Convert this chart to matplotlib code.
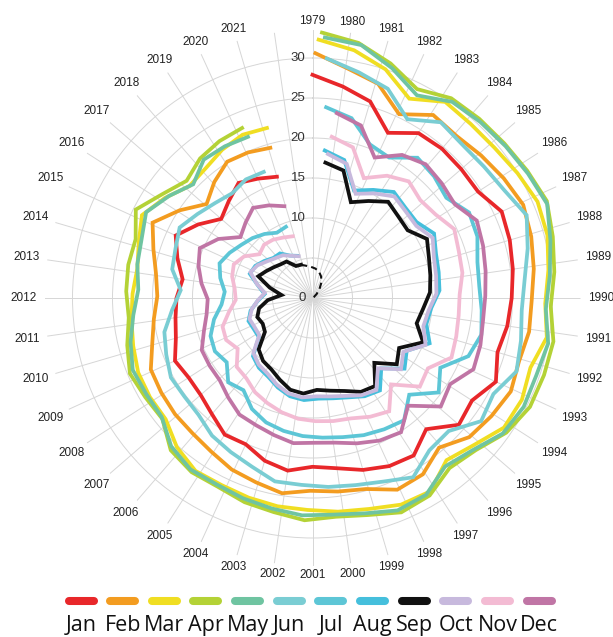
import numpy as np
import matplotlib
matplotlib.use('Agg')
import matplotlib.pyplot as plt
from matplotlib.lines import Line2D

# 年份 (1979-2021), 数值读自原图 (千立方公里)
years = list(range(1979, 2022))

jan = [27.9, 26.7, 25.6, 22.7, 24.5, 24.7, 24.6, 24.6, 26.0, 25.7,
       25.3, 24.9, 24.6, 24.1, 25.2, 23.7, 24.2, 21.7, 23.4, 23.1,
       22.4, 21.5, 21.1, 21.8, 21.2, 20.1, 20.3, 19.2, 18.5, 18.4,
       18.9, 17.8, 17.3, 17.0, 16.4, 17.6, 18.8, 17.0, 15.1, 16.0,
       17.1, 16.4, 15.8]
feb = [30.6, 29.0, 28.0, 25.4, 27.4, 27.1, 27.6, 28.2, 28.8, 28.4,
       27.9, 27.4, 27.4, 27.0, 27.4, 26.8, 26.2, 24.5, 26.0, 26.2,
       24.8, 24.4, 24.1, 24.7, 24.1, 23.7, 23.0, 22.6, 22.5, 22.3,
       22.1, 20.8, 20.0, 19.4, 19.8, 20.8, 22.1, 19.9, 17.7, 19.0,
       20.1, 19.9, 19.5]
mar = [32.3, 31.4, 30.0, 27.7, 29.6, 29.4, 29.5, 30.0, 30.6, 30.4,
       29.7, 29.1, 29.7, 28.6, 29.1, 28.9, 27.3, 26.3, 28.3, 28.1,
       27.3, 26.9, 26.5, 26.4, 26.2, 26.0, 26.1, 25.2, 23.8, 23.8,
       23.7, 23.2, 22.8, 22.5, 22.2, 22.8, 23.7, 22.3, 20.8, 21.0,
       21.7, 22.2, 22.0]
apr = [33.2, 32.4, 30.9, 29.2, 30.4, 30.6, 30.8, 31.2, 31.7, 31.0,
       30.4, 29.8, 30.6, 30.5, 30.4, 29.5, 27.9, 27.3, 28.7, 29.0,
       28.0, 27.5, 27.8, 27.2, 26.9, 26.4, 26.5, 26.0, 24.1, 24.3,
       24.7, 23.9, 23.1, 23.3, 23.4, 23.3, 24.7, 22.8, 21.5, 22.4,
       22.8, 23.0]
may = [32.6, 32.2, 30.4, 28.5, 30.1, 30.4, 30.7, 31.1, 31.6, 30.6,
       29.8, 29.2, 30.0, 29.6, 29.7, 29.2, 27.6, 26.8, 28.4, 28.6,
       27.7, 27.2, 27.2, 26.8, 26.5, 26.2, 26.3, 25.6, 24.0, 24.0,
       24.2, 23.4, 22.5, 21.8, 22.3, 22.6, 23.4, 22.0, 20.6, 22.0,
       21.9, 21.7]
jun = [30.0, 28.8, 27.8, 25.3, 27.2, 26.8, 27.0, 27.5, 28.7, 27.6,
       26.6, 26.2, 26.6, 27.1, 25.6, 26.1, 23.8, 24.0, 25.7, 24.6,
       24.0, 23.7, 23.4, 23.4, 22.4, 21.8, 21.3, 20.4, 20.2, 20.3,
       19.6, 19.0, 17.6, 16.5, 17.9, 18.2, 18.8, 17.8, 17.0, 16.5,
       17.0, 16.9]
jul = [23.9, 23.0, 20.5, 20.0, 21.9, 21.5, 20.9, 22.3, 22.0, 21.1,
       20.9, 21.2, 21.6, 20.8, 18.2, 19.7, 17.1, 19.1, 18.7, 18.3,
       17.8, 17.5, 17.3, 17.0, 16.6, 15.8, 14.4, 14.9, 13.4, 13.9,
       13.6, 12.6, 11.4, 11.0, 11.8, 12.4, 11.8, 11.1, 10.6, 10.0,
       9.3, 9.5]
aug = [18.5, 17.7, 14.4, 15.5, 16.7, 16.2, 16.1, 17.2, 16.4, 16.1,
       15.9, 14.9, 14.6, 15.7, 13.5, 14.5, 12.3, 14.3, 13.9, 13.2,
       12.8, 12.6, 12.8, 12.6, 12.0, 11.3, 11.0, 10.4, 8.3, 8.3,
       8.5, 7.9, 6.9, 6.0, 7.0, 8.4, 8.2, 7.6, 7.0, 6.9,
       6.0, 5.6]
sep = [17.0, 16.4, 12.9, 14.0, 15.3, 14.8, 14.6, 16.1, 15.4, 15.0,
       14.7, 13.9, 13.4, 14.9, 12.5, 13.4, 11.2, 13.5, 13.2, 12.3,
       11.8, 11.5, 12.0, 11.8, 11.0, 10.3, 10.0, 9.3, 7.3, 7.0,
       7.3, 6.8, 5.6, 3.9, 5.5, 7.3, 6.7, 6.2, 5.8, 5.6,
       4.5, 4.4]
oct_ = [18.1, 17.3, 14.1, 15.2, 16.3, 15.9, 15.8, 16.8, 16.0, 15.7,
        15.5, 14.6, 14.3, 15.3, 13.2, 14.2, 12.0, 14.0, 13.6, 12.9,
        12.5, 12.3, 12.5, 12.3, 11.7, 11.0, 10.7, 10.1, 8.1, 8.1,
        8.3, 7.7, 6.8, 6.0, 7.2, 8.4, 8.0, 7.3, 6.8, 6.5,
        5.9, 5.5]
nov = [20.3, 19.5, 16.3, 17.9, 18.9, 18.2, 18.6, 19.7, 19.2, 19.0,
       18.4, 18.4, 18.6, 18.9, 16.9, 17.4, 14.6, 17.1, 16.5, 15.8,
       15.6, 15.4, 15.2, 14.8, 14.3, 13.8, 13.0, 12.8, 11.3, 12.0,
       11.8, 10.6, 9.6, 9.8, 10.4, 10.7, 10.0, 8.6, 9.0, 8.8,
       8.4, 8.1]
dec = [23.3, 22.4, 19.2, 21.1, 21.9, 21.6, 21.3, 22.7, 22.3, 21.9,
       21.6, 21.5, 21.8, 22.0, 20.3, 21.0, 18.0, 20.1, 19.7, 19.0,
       18.3, 18.1, 18.3, 17.8, 17.4, 17.2, 16.3, 15.5, 15.4, 15.3,
       14.2, 13.4, 13.1, 14.0, 14.8, 15.4, 13.9, 11.8, 12.6, 13.5,
       12.8, 12.0]

# 九月趋势外推 (2020-2030), 虚线
sep_outlook = [4.4, 4.1, 3.9, 3.7, 3.4, 2.9, 2.2, 1.4, 0.7, 0.2, 0.0]

months = ['Jan', 'Feb', 'Mar', 'Apr', 'May', 'Jun',
          'Jul', 'Aug', 'Sep', 'Oct', 'Nov', 'Dec']
colors = ['#e8272a', '#f39c20', '#f0de22', '#b4d236', '#6fc4a1', '#7acdd3',
          '#5dc6d6', '#45bfdc', '#111111', '#c7b9dd', '#f3bbd3', '#c075a5']
r_labels = [0, 10, 15, 20, 25, 30]

n_slots = 44  # 43 年 + 一个空位
series = [jan, feb, mar, apr, may, jun, jul, aug, sep, oct_, nov, dec]

fig = plt.figure(figsize=(6.13, 6.37), dpi=100)
fig.patch.set_facecolor('white')
ax = fig.add_axes([44.5 / 613, 71 / 637, 536 / 613, 536 / 637], projection='polar')
ax.set_theta_zero_location('N')
ax.set_theta_direction(-1)
ax.set_ylim(0, 33.5)

# 网格
ax.set_xticks(np.deg2rad(np.arange(n_slots) * 360 / n_slots))
ax.set_xticklabels([])
ax.set_yticks([5, 10, 15, 20, 25, 30])
ax.set_yticklabels([])
ax.grid(True, color='#d6d6d6', lw=0.7)
ax.spines['polar'].set_visible(False)

# 每个月一条线, 角度 = 年 + 月/12
for m, vals in enumerate(series):
    th = 2 * np.pi * (np.arange(len(vals)) + m / 12) / n_slots
    ax.plot(th, vals, color=colors[m], lw=2.7, solid_joinstyle='miter', zorder=3)

th = 2 * np.pi * (np.arange(len(sep_outlook)) + 41 + 8 / 12) / n_slots
ax.plot(th, sep_outlook, color='#111111', lw=1.5, ls=(0, (3, 2)), zorder=3)

# 半径标签
for r in r_labels:
    ax.annotate(str(r), xy=(0, r), xytext=(-5, 0), textcoords='offset points',
                ha='right', va='center', fontsize=9.5, color='#333333',
                family=['Liberation Sans', 'DejaVu Sans'])

# 年份标签
for i, y in enumerate(years):
    t = 2 * np.pi * i / n_slots
    rr = 34.6 + 1.5 * abs(np.sin(t))
    ax.text(t, rr, str(y), ha='center', va='center', fontsize=8.5, color='#222222',
            family=['Liberation Sans', 'DejaVu Sans'])

# 图例
for k, (name, c) in enumerate(zip(months, colors)):
    x = 81 + 41.65 * k
    fig.add_artist(Line2D([(x - 12.5) / 613, (x + 12.5) / 613], [36 / 637, 36 / 637],
                          lw=5.8, color=c, solid_capstyle='round',
                          transform=fig.transFigure))
    fig.text(x / 613, 6 / 637, name, ha='center', va='baseline', fontsize=15.5,
             color='#111111', family=['Open Sans', 'DejaVu Sans'])

fig.savefig('out.png', dpi=100, facecolor='white')
